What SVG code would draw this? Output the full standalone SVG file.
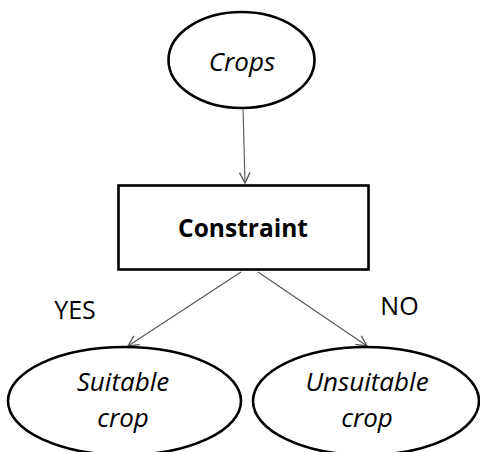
<svg xmlns="http://www.w3.org/2000/svg" width="480" height="452" viewBox="0 0 480 452">
<style>
.node{fill:#fff;stroke:#000;stroke-width:2.6}
.conn{stroke:#555;stroke-width:1.1;fill:none}
.lbl{font-family:"Open Sans","Liberation Sans",sans-serif;fill:#000;text-anchor:middle}
.it{font-style:italic;font-size:26px}
</style>
<defs>
<marker id="arr" markerUnits="userSpaceOnUse" markerWidth="14" markerHeight="14" refX="10" refY="5" orient="auto" viewBox="0 0 12 10">
<path d="M1,0.5 L10,5 L1,9.5" fill="none" stroke="#555" stroke-width="1.1"/>
</marker>
</defs>
<rect width="480" height="452" fill="#fff"/>
<g id="connectors">
<line class="conn" x1="243" y1="108" x2="245" y2="183" marker-end="url(#arr)"/>
<line class="conn" x1="241" y1="272" x2="128" y2="346" marker-end="url(#arr)"/>
<line class="conn" x1="258" y1="272" x2="367" y2="346" marker-end="url(#arr)"/>
</g>
<g id="crops">
<ellipse class="node" cx="241.5" cy="60" rx="73" ry="48"/>
<text class="lbl it" x="242" y="71" font-size="25">Crops</text>
</g>
<g id="constraint">
<rect class="node" x="118.5" y="185.5" width="250" height="84" stroke-width="3"/>
<text class="lbl" x="243" y="237" font-size="24.5" font-weight="bold">Constraint</text>
</g>
<g id="suitable">
<ellipse class="node" cx="124.5" cy="401" rx="116.5" ry="54"/>
<text class="lbl it" x="123" y="391">Suitable</text>
<text class="lbl it" x="123" y="427">crop</text>
</g>
<g id="unsuitable">
<ellipse class="node" cx="366" cy="401" rx="113" ry="54"/>
<text class="lbl it" x="367" y="391">Unsuitable</text>
<text class="lbl it" x="367" y="427">crop</text>
</g>
<text class="lbl" x="75" y="319" font-size="25">YES</text>
<text class="lbl" x="399.5" y="315" font-size="25">NO</text>
</svg>
